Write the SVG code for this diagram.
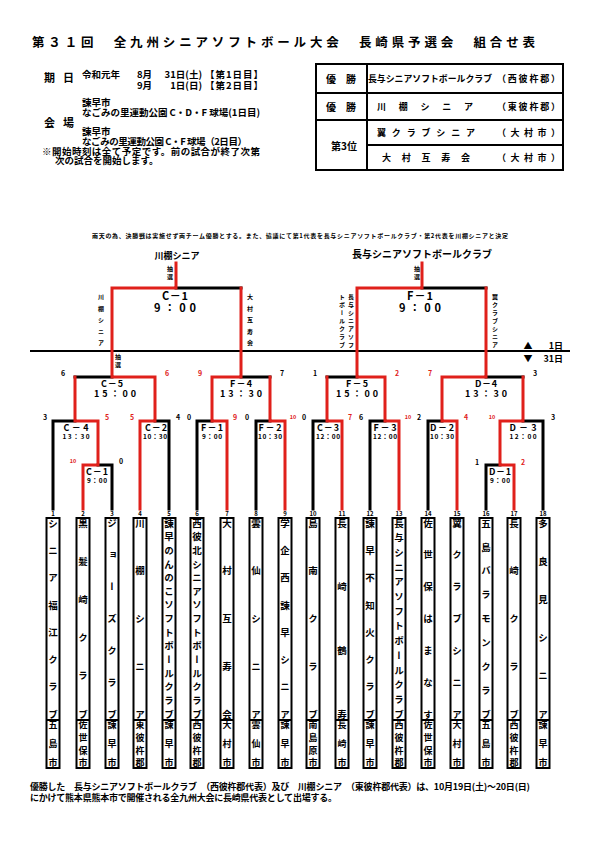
<svg xmlns="http://www.w3.org/2000/svg" width="595" height="842" viewBox="0 0 595 842">
<style>
text{font-family:"Noto Sans CJK JP","Noto Sans CJK SC",sans-serif;font-weight:bold;fill:#000}
.k{stroke:#000;stroke-width:3;fill:none;stroke-linecap:square}
.r{stroke:#e0201b;stroke-width:3;fill:none;stroke-linecap:square}
.rt{fill:#e0201b}
.c{text-anchor:middle;dominant-baseline:central}
.cl{dominant-baseline:central}
.sc{font-size:7px}
.s10{font-size:5.5px}
.m2{font-size:9px}
.m1{font-size:9px}
.t1{font-size:6.5px}
.num{font-size:6px}
.i{font-size:9.5px}
.tb{font-size:10px}
.v{writing-mode:vertical-rl;font-size:9.5px}
.pl{writing-mode:vertical-rl;font-size:9px}
.sv{writing-mode:vertical-rl;font-size:6px}
.box{fill:#fff;stroke:#000;stroke-width:2}
.tbl{fill:none;stroke:#000;stroke-width:2}
</style>
<rect width="595" height="842" fill="#fff"/>

<g id="title">
<text x="32" y="47" font-size="12.5" font-weight="900" textLength="503" lengthAdjust="spacing">第３１回　全九州シニアソフトボール大会　長崎県予選会　組合せ表</text>
</g>

<g id="info">
<text class="cl" x="44" y="77" font-size="11">期</text>
<text class="cl" x="63" y="77" font-size="11">日</text>
<text class="cl i" x="82" y="74">令和元年</text>
<text class="cl i" x="137" y="74">8月</text>
<text class="cl i" x="202" y="74" text-anchor="end">31日(土)</text>
<text class="cl i" x="205" y="74" textLength="58" lengthAdjust="spacing">【第1日目】</text>
<text class="cl i" x="137" y="85">9月</text>
<text class="cl i" x="202" y="85" text-anchor="end">1日(日)</text>
<text class="cl i" x="205" y="85" textLength="58" lengthAdjust="spacing">【第2日目】</text>
<text class="cl i" x="82" y="102">諫早市</text>
<text class="cl i" x="82" y="112" textLength="178" lengthAdjust="spacing">なごみの里運動公園 C・D・F 球場(1日目)</text>
<text class="cl" x="44" y="122" font-size="11">会</text>
<text class="cl" x="63" y="122" font-size="11">場</text>
<text class="cl i" x="82" y="131">諫早市</text>
<text class="cl i" x="82" y="141" textLength="165" lengthAdjust="spacing">なごみの里運動公園 C・F 球場（2日目）</text>
<text class="cl i" x="42" y="151" textLength="218" lengthAdjust="spacing">※開始時刻は全て予定です。前の試合が終了次第</text>
<text class="cl i" x="55" y="160">次の試合を開始します。</text>
</g>

<g id="results">
<rect class="tbl" x="316" y="64" width="247" height="106"/>
<path class="tbl" d="M367,64V170M316,93H563M316,120H563M367,145H563"/>
<text class="c tb" x="341" y="78.5">優　勝</text>
<text class="cl m1" x="368" y="78.5" textLength="124" lengthAdjust="spacingAndGlyphs">長与シニアソフトボールクラブ</text>
<text class="cl m1" x="497" y="78.5" textLength="63" lengthAdjust="spacing">（西彼杵郡）</text>
<text class="c tb" x="341" y="106.5">優　勝</text>
<text class="cl m1" x="377" y="106.5" textLength="96" lengthAdjust="spacing">川棚シニア</text>
<text class="cl m1" x="497" y="106.5" textLength="63" lengthAdjust="spacing">（東彼杵郡）</text>
<text class="c tb" x="344" y="145">第3位</text>
<text class="cl m1" x="377" y="132.5" textLength="98" lengthAdjust="spacing">翼クラブシニア</text>
<text class="cl m1" x="497" y="132.5" textLength="63" lengthAdjust="spacing">（大村市）</text>
<text class="cl m1" x="382" y="157.5" textLength="88" lengthAdjust="spacing">大村互寿会</text>
<text class="cl m1" x="497" y="157.5" textLength="63" lengthAdjust="spacing">（大村市）</text>
</g>

<g id="note">
<text class="cl" x="92" y="235" font-size="6" textLength="416" lengthAdjust="spacing">雨天の為、決勝戦は実施せず両チーム優勝とする。また、協議にて第1代表を長与シニアソフトボールクラブ・第2代表を川棚シニアと決定</text>
</g>

<g id="connectors">
<path class="k" d="M53,509V421H75M98,465H112V509M155,421H169V509M75,377H112M197,509V421H212M256,509V421H270M241,377H270M176,288H241M313,509V421H327M370,509V421H385M327,377H357M428,509V421H442M486,509V465H500M523,421H543V509M486,377H523M422,288H486"/>
<path d="M30,351H570" stroke="#000" stroke-width="2"/>
<path class="r" d="M83,509V465H98V421H75V377M140,509V421H155V377H112V288H176V263M227,509V421H212V377H241V288M285,509V421H270V377M342,509V421H327V377M399,509V421H385V377H357V288H422V263M457,509V421H442V377H486V288M514,509V465H500V421H523V377"/>
</g>

<g id="final-labels">
<text class="c" x="177" y="255" font-size="9">川棚シニア</text>
<text class="c" x="422" y="253" font-size="10" textLength="140" lengthAdjust="spacing">長与シニアソフトボールクラブ</text>
<text class="sv" x="170" y="266" letter-spacing="2">抽選</text>
<text class="sv" x="417" y="266" letter-spacing="2">抽選</text>
<text class="sv" x="101" y="294" letter-spacing="5.5">川棚シニア</text>
<text class="sv" x="250" y="294" letter-spacing="5.5">大村互寿会</text>
<text class="sv" x="351" y="294" letter-spacing="2">長与シニアソフ</text>
<text class="sv" x="342" y="294" letter-spacing="2">トボールクラブ</text>
<text class="sv" x="495" y="294" letter-spacing="2">翼クラブシニア</text>
<text class="sv" x="118" y="354" font-size="7" letter-spacing="2">抽選</text>
<text class="c" x="528" y="345" font-size="9">▲</text>
<text class="cl" x="563" y="345" font-size="9" text-anchor="end">1日</text>
<text class="c" x="528" y="358" font-size="9">▼</text>
<text class="cl" x="563" y="358" font-size="9" text-anchor="end">31日</text>
</g>

<g id="match-labels">
<text class="c" x="175" y="295" font-size="11" textLength="26" lengthAdjust="spacing">C－1</text>
<text class="c" x="175" y="307" font-size="11" textLength="42" lengthAdjust="spacing">9：00</text>
<text class="c" x="420" y="295" font-size="11" textLength="26" lengthAdjust="spacing">F－1</text>
<text class="c" x="420" y="307" font-size="11" textLength="42" lengthAdjust="spacing">9：00</text>
<text class="c m2" x="112" y="383" textLength="22" lengthAdjust="spacing">C－5</text>
<text class="c m2" x="115" y="393" textLength="42" lengthAdjust="spacing">15：00</text>
<text class="c m2" x="241" y="383" textLength="22" lengthAdjust="spacing">F－4</text>
<text class="c m2" x="241" y="393" textLength="42" lengthAdjust="spacing">13：30</text>
<text class="c m2" x="357" y="383" textLength="22" lengthAdjust="spacing">F－5</text>
<text class="c m2" x="357" y="393" textLength="42" lengthAdjust="spacing">15：00</text>
<text class="c m2" x="486" y="383" textLength="22" lengthAdjust="spacing">D－4</text>
<text class="c m2" x="486" y="393" textLength="42" lengthAdjust="spacing">13：30</text>
<text class="c m1" x="76" y="427" textLength="25" lengthAdjust="spacing">C－4</text>
<text class="c t1" x="76" y="436" textLength="27" lengthAdjust="spacing">13：30</text>
<text class="c m1" x="156" y="427" textLength="22" lengthAdjust="spacing">C－2</text>
<text class="c t1" x="155" y="436" textLength="24" lengthAdjust="spacing">10：30</text>
<text class="c m1" x="212" y="427" textLength="22" lengthAdjust="spacing">F－1</text>
<text class="c t1" x="212" y="436" textLength="20" lengthAdjust="spacing">9：00</text>
<text class="c m1" x="270" y="427" textLength="23" lengthAdjust="spacing">F－2</text>
<text class="c t1" x="270" y="436" textLength="24" lengthAdjust="spacing">10：30</text>
<text class="c m1" x="328" y="427" textLength="22" lengthAdjust="spacing">C－3</text>
<text class="c t1" x="328" y="436" textLength="24" lengthAdjust="spacing">12：00</text>
<text class="c m1" x="385" y="427" textLength="23" lengthAdjust="spacing">F－3</text>
<text class="c t1" x="385" y="436" textLength="24" lengthAdjust="spacing">12：00</text>
<text class="c m1" x="442" y="427" textLength="24" lengthAdjust="spacing">D－2</text>
<text class="c t1" x="442" y="436" textLength="24" lengthAdjust="spacing">10：30</text>
<text class="c m1" x="523" y="427" textLength="27" lengthAdjust="spacing">D－3</text>
<text class="c t1" x="523" y="436" textLength="27" lengthAdjust="spacing">12：00</text>
<text class="c m1" x="97" y="471" textLength="22" lengthAdjust="spacing">C－1</text>
<text class="c t1" x="97" y="480" textLength="20" lengthAdjust="spacing">9：00</text>
<text class="c m1" x="500" y="471" textLength="22" lengthAdjust="spacing">D－1</text>
<text class="c t1" x="500" y="480" textLength="20" lengthAdjust="spacing">9：00</text>
</g>

<g id="scores">
<text class="c sc" x="63" y="373">6</text>
<text class="c sc rt" x="167" y="373">6</text>
<text class="c sc" x="45" y="417">3</text>
<text class="c sc rt" x="107" y="417">5</text>
<text class="c sc rt" x="132" y="417">5</text>
<text class="c sc" x="178" y="417">4</text>
<text class="c s10 rt" x="73" y="461">10</text>
<text class="c sc" x="121" y="461">0</text>
<text class="c sc rt" x="200" y="373">9</text>
<text class="c sc" x="282" y="373">7</text>
<text class="c sc" x="189" y="417">0</text>
<text class="c sc rt" x="235" y="417">9</text>
<text class="c sc" x="247" y="417">0</text>
<text class="c s10 rt" x="293" y="417">10</text>
<text class="c sc" x="315" y="373">1</text>
<text class="c sc rt" x="397" y="373">2</text>
<text class="c sc" x="304" y="417">0</text>
<text class="c sc rt" x="350" y="417">7</text>
<text class="c sc" x="361" y="417">6</text>
<text class="c s10 rt" x="408" y="417">10</text>
<text class="c sc" x="419" y="417">2</text>
<text class="c sc rt" x="466" y="417">4</text>
<text class="c sc rt" x="430" y="373">7</text>
<text class="c sc" x="535" y="373">3</text>
<text class="c s10 rt" x="492" y="417">10</text>
<text class="c sc" x="553" y="417">3</text>
<text class="c sc" x="477" y="462" font-size="8">1</text>
<text class="c sc rt" x="523" y="462" font-size="8">2</text>
</g>

<g id="team1"><rect class="box" x="46.5" y="518" width="13" height="250"/><path d="M46.5,720H59.5" stroke="#000" stroke-width="2"/><text class="c num" x="53" y="513">1</text><text class="v" x="53" y="518.3" letter-spacing="17.79">シニア福江クラブ</text><text class="pl" x="53" y="720.5" letter-spacing="10">五島市</text></g>
<g id="team2"><rect class="box" x="76.5" y="518" width="13" height="250"/><path d="M76.5,720H89.5" stroke="#000" stroke-width="2"/><text class="c num" x="83" y="513">2</text><text class="v" x="83" y="518.3" letter-spacing="28.7">黒髪崎クラブ</text><text class="pl" x="83" y="720.5" letter-spacing="3.67">佐世保市</text></g>
<g id="team3"><rect class="box" x="105.5" y="518" width="13" height="250"/><path d="M105.5,720H118.5" stroke="#000" stroke-width="2"/><text class="c num" x="112" y="513">3</text><text class="v" x="112" y="518.3" letter-spacing="22.33">ジョーズクラブ</text><text class="pl" x="112" y="720.5" letter-spacing="10">諫早市</text></g>
<g id="team4"><rect class="box" x="133.5" y="518" width="13" height="250"/><path d="M133.5,720H146.5" stroke="#000" stroke-width="2"/><text class="c num" x="140" y="513">4</text><text class="v" x="140" y="518.3" letter-spacing="38.25">川棚シニア</text><text class="pl" x="140" y="720.5" letter-spacing="3.67">東彼杵郡</text></g>
<g id="team5"><rect class="box" x="162.5" y="518" width="13" height="250"/><path d="M162.5,720H175.5" stroke="#000" stroke-width="2"/><text class="c num" x="169" y="513">5</text><text class="v" x="169" y="518.3" letter-spacing="4.14">諫早のんのこソフトボールクラブ</text><text class="pl" x="169" y="720.5" letter-spacing="10">諫早市</text></g>
<g id="team6"><rect class="box" x="190.5" y="518" width="13" height="250"/><path d="M190.5,720H203.5" stroke="#000" stroke-width="2"/><text class="c num" x="197" y="513">6</text><text class="v" x="197" y="518.3" letter-spacing="4.14">西彼北シニアソフトボールクラブ</text><text class="pl" x="197" y="720.5" letter-spacing="3.67">西彼杵郡</text></g>
<g id="team7"><rect class="box" x="220.5" y="518" width="13" height="250"/><path d="M220.5,720H233.5" stroke="#000" stroke-width="2"/><text class="c num" x="227" y="513">7</text><text class="v" x="227" y="518.3" letter-spacing="38.25">大村互寿会</text><text class="pl" x="227" y="720.5" letter-spacing="10">大村市</text></g>
<g id="team8"><rect class="box" x="249.5" y="518" width="13" height="250"/><path d="M249.5,720H262.5" stroke="#000" stroke-width="2"/><text class="c num" x="256" y="513">8</text><text class="v" x="256" y="518.3" letter-spacing="38.25">雲仙シニア</text><text class="pl" x="256" y="720.5" letter-spacing="10">雲仙市</text></g>
<g id="team9"><rect class="box" x="278.5" y="518" width="13" height="250"/><path d="M278.5,720H291.5" stroke="#000" stroke-width="2"/><text class="c num" x="285" y="513">9</text><text class="v" x="285" y="518.3" letter-spacing="17.79">学企西諫早シニア</text><text class="pl" x="285" y="720.5" letter-spacing="10">諫早市</text></g>
<g id="team10"><rect class="box" x="306.5" y="518" width="13" height="250"/><path d="M306.5,720H319.5" stroke="#000" stroke-width="2"/><text class="c num" x="313" y="513">10</text><text class="v" x="313" y="518.3" letter-spacing="38.25">島南クラブ</text><text class="pl" x="313" y="720.5" letter-spacing="3.67">南島原市</text></g>
<g id="team11"><rect class="box" x="335.5" y="518" width="13" height="250"/><path d="M335.5,720H348.5" stroke="#000" stroke-width="2"/><text class="c num" x="342" y="513">11</text><text class="v" x="342" y="518.3" letter-spacing="54.17">長崎鶴寿</text><text class="pl" x="342" y="720.5" letter-spacing="10">長崎市</text></g>
<g id="team12"><rect class="box" x="363.5" y="518" width="13" height="250"/><path d="M363.5,720H376.5" stroke="#000" stroke-width="2"/><text class="c num" x="370" y="513">12</text><text class="v" x="370" y="518.3" letter-spacing="17.79">諫早不知火クラブ</text><text class="pl" x="370" y="720.5" letter-spacing="10">諫早市</text></g>
<g id="team13"><rect class="box" x="392.5" y="518" width="13" height="250"/><path d="M392.5,720H405.5" stroke="#000" stroke-width="2"/><text class="c num" x="399" y="513">13</text><text class="v" x="399" y="518.3" letter-spacing="5.19">長与シニアソフトボールクラブ</text><text class="pl" x="399" y="720.5" letter-spacing="3.67">西彼杵郡</text></g>
<g id="team14"><rect class="box" x="421.5" y="518" width="13" height="250"/><path d="M421.5,720H434.5" stroke="#000" stroke-width="2"/><text class="c num" x="428" y="513">14</text><text class="v" x="428" y="518.3" letter-spacing="22.33">佐世保はまなす</text><text class="pl" x="428" y="720.5" letter-spacing="3.67">佐世保市</text></g>
<g id="team15"><rect class="box" x="450.5" y="518" width="13" height="250"/><path d="M450.5,720H463.5" stroke="#000" stroke-width="2"/><text class="c num" x="457" y="513">15</text><text class="v" x="457" y="518.3" letter-spacing="22.33">翼クラブシニア</text><text class="pl" x="457" y="720.5" letter-spacing="10">大村市</text></g>
<g id="team16"><rect class="box" x="479.5" y="518" width="13" height="250"/><path d="M479.5,720H492.5" stroke="#000" stroke-width="2"/><text class="c num" x="486" y="513">16</text><text class="v" x="486" y="518.3" letter-spacing="14.375">五島バラモンクラブ</text><text class="pl" x="486" y="720.5" letter-spacing="10">五島市</text></g>
<g id="team17"><rect class="box" x="507.5" y="518" width="13" height="250"/><path d="M507.5,720H520.5" stroke="#000" stroke-width="2"/><text class="c num" x="514" y="513">17</text><text class="v" x="514" y="518.3" letter-spacing="38.25">長崎クラブ</text><text class="pl" x="514" y="720.5" letter-spacing="3.67">西彼杵郡</text></g>
<g id="team18"><rect class="box" x="536.5" y="518" width="13" height="250"/><path d="M536.5,720H549.5" stroke="#000" stroke-width="2"/><text class="c num" x="543" y="513">18</text><text class="v" x="543" y="518.3" letter-spacing="28.7">多良見シニア</text><text class="pl" x="543" y="720.5" letter-spacing="10">諫早市</text></g>

<g id="footer">
<text class="cl" x="30" y="786" font-size="9" textLength="500" lengthAdjust="spacing">優勝した　長与シニアソフトボールクラブ　（西彼杵郡代表）及び　川棚シニア　（東彼杵郡代表）は、10月19日(土)～20日(日)</text>
<text class="cl" x="30" y="797" font-size="9" textLength="307" lengthAdjust="spacing">にかけて熊本県熊本市で開催される全九州大会に長崎県代表として出場する。</text>
</g>
</svg>
